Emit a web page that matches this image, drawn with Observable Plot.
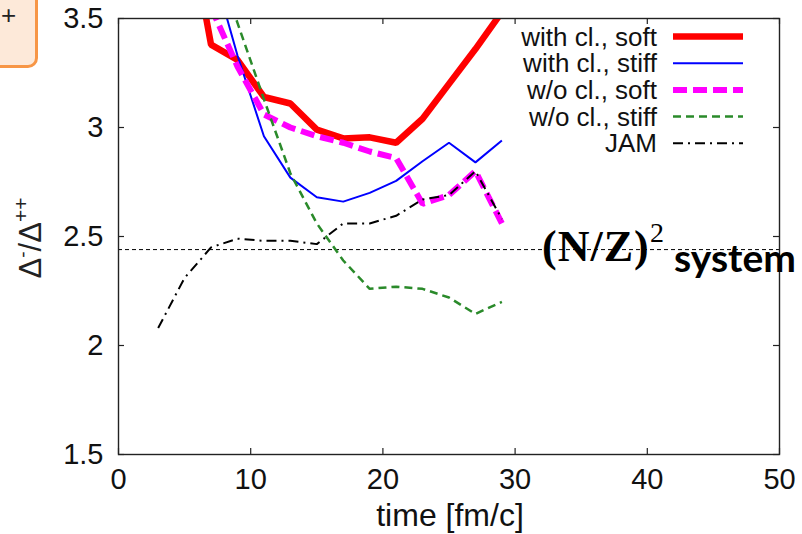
<!DOCTYPE html>
<html>
<head>
<meta charset="utf-8">
<script src="https://cdn.jsdelivr.net/npm/d3@7"></script>
<script src="https://cdn.jsdelivr.net/npm/@observablehq/plot@0.6"></script>
<style>
html, body { margin: 0; padding: 0; background: #fff; }
#wrap { position: relative; width: 802px; height: 534px; overflow: hidden; font-family: "Liberation Sans", Arial, Helvetica, sans-serif; }
#wrap svg { position: absolute; left: 0; top: 0; }
#corner { position: absolute; left: -12px; top: -12px; width: 44px; height: 74px; border: 3px solid #f79646; border-radius: 10px; background: #fde9d9; }
#cornerPlus { position: absolute; left: 1px; top: 2px; font: 26px "Liberation Sans", Arial, sans-serif; line-height: 26px; color: #222; }
</style>
</head>
<body>
<div id="wrap">
  <div id="corner"></div>
  <div id="cornerPlus">+</div>
</div>
<script>
// ---- data ----
const times       = [3, 5, 7, 9, 11, 13, 15, 17, 19, 21, 23, 25, 27, 29];
const withClSoft  = [null, 4.04, 3.38, 3.31, 3.14, 3.11, 2.99, 2.95, 2.955, 2.93, 3.04, 3.20, 3.36, 3.53];
const withClStiff = [null, null, 3.76, 3.33, 2.96, 2.77, 2.68, 2.66, 2.70, 2.755, 2.845, 2.93, 2.84, 2.94];
const woClSoft    = [null, null, 3.55, 3.28, 3.06, 3.00, 2.96, 2.93, 2.89, 2.86, 2.65, 2.69, 2.80, 2.56];
const woClStiff   = [null, null, 3.83, 3.48, 3.13, 2.79, 2.56, 2.39, 2.26, 2.27, 2.26, 2.22, 2.145, 2.20];
const jam         = [2.08, 2.31, 2.45, 2.49, 2.48, 2.48, 2.465, 2.56, 2.56, 2.595, 2.67, 2.69, 2.80, 2.58];
const seriesNames = ["with cl., soft", "with cl., stiff", "w/o cl., soft", "w/o cl., stiff", "JAM"];
const nzSystem = 2.44;
const xTicks = [0, 10, 20, 30, 40, 50];
const yTicks = [1.5, 2, 2.5, 3, 3.5];
const xLabel = "time [fm/c]";

// ---- styles ----
const seriesValues = [withClSoft, withClStiff, woClSoft, woClStiff, jam];
const styles = [
  {stroke: "#ff0000", strokeWidth: 6.5, strokeDasharray: null},
  {stroke: "#0000ff", strokeWidth: 2, strokeDasharray: null},
  {stroke: "#ff00ff", strokeWidth: 6, strokeDasharray: "14,6"},
  {stroke: "#2a8a2a", strokeWidth: 2.5, strokeDasharray: "8,5"},
  {stroke: "#000000", strokeWidth: 2, strokeDasharray: "10,5,2,5"}
];

const W = 802, H = 534;
const mL = 118, mR = 23, mT = 18, mB = 80;
const plotW = W - mL - mR, plotH = H - mT - mB;

const lineMarks = seriesValues.map((vals, i) => {
  const rows = times.map((t, j) => ({t, v: vals[j]})).filter(d => d.v != null);
  return Plot.line(rows, {x: "t", y: "v", clip: true, strokeLinejoin: "miter", strokeLinecap: "butt", ...styles[i]});
});

const fontFamily = '"Liberation Sans", Arial, Helvetica, sans-serif';

const chart = Plot.plot({
  width: W, height: H,
  marginLeft: mL, marginRight: mR, marginTop: mT, marginBottom: mB,
  x: {domain: [0, 50]},
  y: {domain: [1.5, 3.5]},
  style: {fontFamily, background: "transparent", overflow: "visible", color: "#111"},
  marks: [
    Plot.ruleY([nzSystem], {stroke: "#000", strokeWidth: 1, strokeDasharray: "4,3"}),
    ...lineMarks,
    Plot.frame({stroke: "#222", strokeWidth: 1.4}),
    Plot.tickX(xTicks, {x: d => d, stroke: "#222", strokeWidth: 1.2, insetTop: plotH - 6}),
    Plot.tickX(xTicks, {x: d => d, stroke: "#222", strokeWidth: 1.2, insetBottom: plotH - 6}),
    Plot.tickY(yTicks, {y: d => d, stroke: "#222", strokeWidth: 1.2, insetRight: plotW - 6}),
    Plot.tickY(yTicks, {y: d => d, stroke: "#222", strokeWidth: 1.2, insetLeft: plotW - 6}),
    Plot.axisX({ticks: xTicks, tickSize: 0, tickPadding: 14, fontSize: 29, label: null, tickFormat: d => String(d), fill: "#111"}),
    Plot.axisY({ticks: yTicks, tickSize: 0, tickPadding: 15, fontSize: 29, label: null, tickFormat: d => String(d), fill: "#111"})
  ]
});
document.getElementById("wrap").appendChild(chart);

// ---- overlay: legend, labels, annotation ----
const ns = "http://www.w3.org/2000/svg";
const ov = document.createElementNS(ns, "svg");
ov.setAttribute("width", W); ov.setAttribute("height", H);
ov.style.pointerEvents = "none";
document.getElementById("wrap").appendChild(ov);
function el(tag, attrs, parent = ov) {
  const e = document.createElementNS(ns, tag);
  for (const k in attrs) e.setAttribute(k, attrs[k]);
  parent.appendChild(e);
  return e;
}

// legend
const legTextX = 657, legLineX1 = 673, legLineX2 = 743, legY0 = 36.5, legDy = 26.7;
seriesNames.forEach((name, i) => {
  const y = legY0 + i * legDy;
  const t = el("text", {x: legTextX, y: y + 9, "text-anchor": "end", "font-size": 26, "font-family": fontFamily, fill: "#111"});
  t.textContent = name;
  const s = styles[i];
  const ln = el("line", {x1: legLineX1, x2: legLineX2, y1: y, y2: y, stroke: s.stroke, "stroke-width": s.strokeWidth});
  if (s.strokeDasharray) ln.setAttribute("stroke-dasharray", s.strokeDasharray);
});

// x label
const xl = el("text", {x: 450, y: 526, "text-anchor": "middle", "font-size": 32, "font-family": fontFamily, fill: "#111"});
xl.textContent = xLabel;

// y label (rotated)
const yl = el("text", {transform: "translate(41,238) rotate(-90)", "text-anchor": "middle", "font-size": 31, "font-family": fontFamily, fill: "#222"});
const ya = el("tspan", {}, yl); ya.textContent = "\u0394";
const yb = el("tspan", {dy: -12, "font-size": 19}, yl); yb.textContent = "-";
const yc = el("tspan", {dy: 12}, yl); yc.textContent = "/\u0394";
const yd = el("tspan", {dy: -13, "font-size": 21}, yl); yd.textContent = "++";

// (N/Z)^2 system annotation
const a1 = el("text", {x: 542, y: 261, "font-size": 44, "font-weight": "bold", "font-family": '"Liberation Serif", "Times New Roman", serif', fill: "#000", "letter-spacing": "1"});
a1.textContent = "(N/Z)";
const a2 = el("text", {x: 650, y: 242, "font-size": 28, "font-family": '"Liberation Serif", "Times New Roman", serif', fill: "#000"});
a2.textContent = "2";
const a3 = el("text", {x: 674, y: 272, "font-size": 39, "font-weight": "bold", "font-family": 'Lato, "Open Sans", sans-serif', fill: "#000"});
a3.textContent = "system";
</script>
</body>
</html>
